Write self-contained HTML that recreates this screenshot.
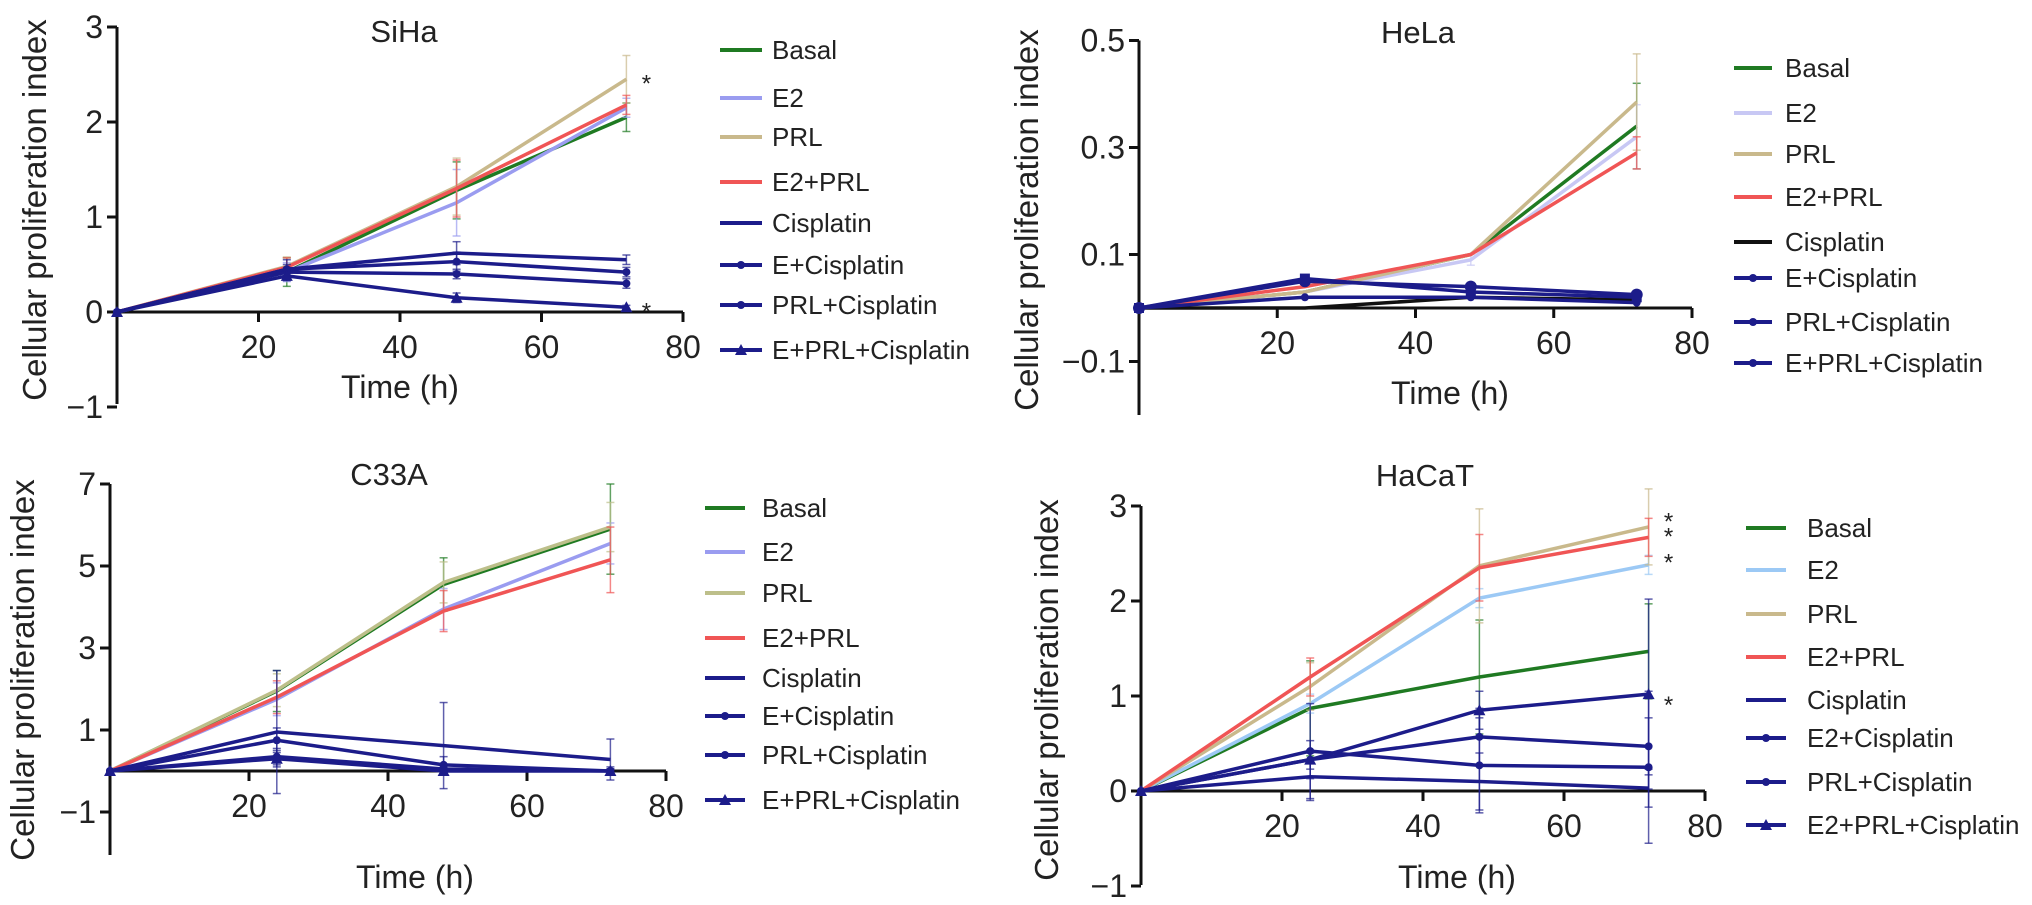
<!DOCTYPE html>
<html><head><meta charset="utf-8">
<style>
html,body{margin:0;padding:0;background:#fff;}
svg{display:block;font-family:"Liberation Sans",Arial,sans-serif;}
</style></head>
<body>
<svg id="fig" width="2032" height="905" viewBox="0 0 2032 905" xmlns="http://www.w3.org/2000/svg"></svg>
<script>
const times = [0, 24, 48, 72];
const xTicks = [20, 40, 60, 80];
const seriesNames = ["Basal","E2","PRL","E2+PRL","Cisplatin","E+Cisplatin","PRL+Cisplatin","E+PRL+Cisplatin"];
const hacatNames = ["Basal","E2","PRL","E2+PRL","Cisplatin","E2+Cisplatin","PRL+Cisplatin","E2+PRL+Cisplatin"];

const sihaBasal = [0,0.42,1.28,2.05];
const sihaE2 = [0,0.42,1.15,2.15];
const sihaPRL = [0,0.48,1.32,2.45];
const sihaE2PRL = [0,0.47,1.30,2.18];
const sihaCis = [0,0.45,0.62,0.55];
const sihaECis = [0,0.45,0.53,0.42];
const sihaPRLCis = [0,0.42,0.40,0.30];
const sihaEPRLCis = [0,0.38,0.15,0.05];
const sihaYTicks = [3,2,1,0,-1];

const helaBasal = [0,0.03,0.10,0.34];
const helaE2 = [0,0.03,0.09,0.32];
const helaPRL = [0,0.03,0.10,0.385];
const helaE2PRL = [0,0.04,0.10,0.29];
const helaCis = [0,0.0,0.02,0.015];
const helaECis = [0,0.02,0.02,0.01];
const helaPRLCis = [0,0.055,0.03,0.02];
const helaEPRLCis = [0,0.05,0.04,0.025];
const helaYTicks = [0.5,0.3,0.1,-0.1];

const c33Basal = [0,1.95,4.55,5.9];
const c33E2 = [0,1.75,3.95,5.55];
const c33PRL = [0,1.97,4.6,5.95];
const c33E2PRL = [0,1.8,3.9,5.15];
const c33Cis = [0,0.95,0.62,0.28];
const c33ECis = [0,0.75,0.15,0.0];
const c33PRLCis = [0,0.35,0.05,0.0];
const c33EPRLCis = [0,0.3,0.0,0.0];
const c33YTicks = [7,5,3,1,-1];

const hacatBasal = [0,0.87,1.2,1.47];
const hacatE2 = [0,0.92,2.03,2.38];
const hacatPRL = [0,1.1,2.37,2.78];
const hacatE2PRL = [0,1.2,2.35,2.67];
const hacatCis = [0,0.15,0.1,0.03];
const hacatE2Cis = [0,0.42,0.27,0.25];
const hacatPRLCis = [0,0.33,0.57,0.47];
const hacatE2PRLCis = [0,0.33,0.85,1.02];
const hacatYTicks = [3,2,1,0,-1];

const NS = "http://www.w3.org/2000/svg";
const svg = document.getElementById("fig");
function mk(tag, attrs, parent){const e=document.createElementNS(NS,tag);for(const k in attrs)e.setAttribute(k,attrs[k]);(parent||svg).appendChild(e);return e;}

const GREEN="#1f7a22", BLUE="#1c1c8a";
function panel(cfg){
  const g = mk("g",{});
  
  
  const X = t => cfg.x0 + (t/80)*(cfg.x80-cfg.x0);
  const Y = v => cfg.y0 - (v/cfg.unit)*cfg.unitPx;
  const ya = mk("line",{x1:cfg.x0,y1:Y(cfg.yTop),x2:cfg.x0,y2:cfg.yBottom,stroke:"#111","stroke-width":3},g);
  
  
  const xa = mk("line",{x1:cfg.x0,y1:cfg.y0,x2:cfg.x80,y2:cfg.y0,stroke:"#111","stroke-width":3},g);
  
  
  cfg.yTicks.forEach(v=>{
    mk("line",{x1:cfg.x0-10,y1:Y(v),x2:cfg.x0,y2:Y(v),stroke:"#111","stroke-width":3},g);
    const t = mk("text",{x:cfg.x0-14,y:Y(v)+11,"text-anchor":"end","font-size":32,fill:"#222"},g);
    t.textContent = v<0 ? "\u2212"+Math.abs(v) : String(v);
    
    
  });
  xTicks.forEach(v=>{
    mk("line",{x1:X(v),y1:cfg.y0,x2:X(v),y2:cfg.y0+10,stroke:"#111","stroke-width":3},g);
    const t = mk("text",{x:X(v),y:cfg.y0+46,"text-anchor":"middle","font-size":32,fill:"#222"},g);
    t.textContent = v;
    
    
  });
  const tt = mk("text",{x:cfg.titleX,y:cfg.titleY,"text-anchor":"middle","font-size":31,fill:"#222"},g);
  tt.textContent = cfg.title;
  
  
  const xt = mk("text",{x:cfg.xtX,y:cfg.xtY,"text-anchor":"middle","font-size":32,fill:"#222"},g);
  xt.textContent = "Time (h)";
  
  
  const yt = mk("text",{x:0,y:0,"text-anchor":"middle","font-size":33,fill:"#222",transform:`translate(${cfg.ytX},${cfg.ytY}) rotate(-90)`},g);
  yt.textContent = "Cellular proliferation index";
  
  
  cfg.series.forEach((s,i)=>{
    const sg = mk("g",{},g);
    
    
    s.vals.forEach((v,j)=>{
      if(!j) return;
      const e = (s.err||[])[j]||0;
      if(e>0){
        mk("line",{x1:X(times[j]),y1:Y(v-e),x2:X(times[j]),y2:Y(v+e),stroke:s.color,"stroke-width":1.5,opacity:0.7},sg);
        mk("line",{x1:X(times[j])-4,y1:Y(v+e),x2:X(times[j])+4,y2:Y(v+e),stroke:s.color,"stroke-width":1.5,opacity:0.7},sg);
        mk("line",{x1:X(times[j])-4,y1:Y(v-e),x2:X(times[j])+4,y2:Y(v-e),stroke:s.color,"stroke-width":1.5,opacity:0.7},sg);
      }
    });
    const pts = s.vals.map((v,j)=>X(times[j])+","+Y(v)).join(" ");
    mk("polyline",{points:pts,fill:"none",stroke:s.color,"stroke-width":s.w||3.5,"stroke-linejoin":"round"},sg);
    if(s.marker){
      s.vals.forEach((v,j)=>{
        if(s.marker==="tri") mk("path",{d:`M${X(times[j])-6},${Y(v)+5}L${X(times[j])+6},${Y(v)+5}L${X(times[j])},${Y(v)-6}Z`,fill:s.color},sg);
        else if(s.marker==="sq") mk("rect",{x:X(times[j])-5,y:Y(v)-5,width:10,height:10,fill:s.color},sg);
        else mk("circle",{cx:X(times[j]),cy:Y(v),r:s.marker==="big"?6:4,fill:s.color},sg);
      });
    }
  });
  (cfg.stars||[]).forEach(v=>{
    const a = mk("text",{x:X(72)+20,y:Y(v)+12,"font-size":24,fill:"#222","text-anchor":"middle"},g);
    a.textContent="*";
    
    
  });
  const lg = mk("g",{},g);
  
  
  cfg.series.forEach((s,i)=>{
    const y = cfg.legRows[i];
    const le = mk("g",{},lg);
    
    
    mk("line",{x1:cfg.legX1,y1:y,x2:cfg.legX2,y2:y,stroke:s.color,"stroke-width":4},le);
    if(s.marker){
      const cx=(cfg.legX1+cfg.legX2)/2;
      if(s.marker==="tri") mk("path",{d:`M${cx-6},${y+5}L${cx+6},${y+5}L${cx},${y-6}Z`,fill:s.color},le);
      else mk("circle",{cx:cx,cy:y,r:4,fill:s.color},le);
    }
    const t = mk("text",{x:cfg.legText,y:y+9,"font-size":26,fill:"#222"},le);
    t.textContent = s.name;
  });
}

function mkSeries(names, arrs, colors, errs, markers){
  return names.map((n,i)=>({name:n, vals:arrs[i], color:colors[i], err:errs[i], marker:markers[i]}));
}
const baseColors = [GREEN,"#9a9cf0","#c9b98c","#f05555",BLUE,BLUE,BLUE,BLUE];
const markers = [null,null,null,null,null,"dot","dot","tri"];

panel({id:"siha",title:"SiHa",x0:117,x80:683,y0:312,unit:1,unitPx:95,yTop:3,yBottom:404,yTicks:sihaYTicks,
  titleX:404,titleY:42,xtX:400,xtY:398,ytX:46,ytY:210,
  legX1:720,legX2:762,legText:772,legRows:[50,98,137,182,223,265,305,350],stars:[2.45,0.05],
  series:mkSeries(seriesNames,[sihaBasal,sihaE2,sihaPRL,sihaE2PRL,sihaCis,sihaECis,sihaPRLCis,sihaEPRLCis],baseColors,
   [[0,0.15,0.3,0.15],[0,0.1,0.35,0.1],[0,0.1,0.3,0.25],[0,0.1,0.3,0.1],[0,0.1,0.12,0.05],[0,0.05,0.1,0.05],[0,0.05,0.05,0.05],[0,0.05,0.05,0.02]],markers)});

panel({id:"hela",title:"HeLa",x0:1139,x80:1692,y0:308,unit:0.2,unitPx:107,yTop:0.5,yBottom:415,yTicks:helaYTicks,
  titleX:1418,titleY:43,xtX:1450,xtY:404,ytX:1038,ytY:220,
  legX1:1734,legX2:1772,legText:1785,legRows:[68,113,154,197,242,278,322,363],stars:[],
  series:mkSeries(seriesNames,[helaBasal,helaE2,helaPRL,helaE2PRL,helaCis,helaECis,helaPRLCis,helaEPRLCis],
   [GREEN,"#c8c8f4","#c9b98c","#f05555","#111",BLUE,BLUE,BLUE],
   [[0,0,0,0.08],[0,0,0.01,0.06],[0,0,0,0.09],[0,0,0,0.03],[0,0,0,0],[0,0,0,0],[0,0.005,0.01,0.005],[0,0,0.005,0.005]],
   [null,null,null,null,null,"dot","sq","big"])});

panel({id:"c33a",title:"C33A",x0:110,x80:666,y0:771,unit:1,unitPx:41,yTop:7,yBottom:855,yTicks:c33YTicks,
  titleX:389,titleY:485,xtX:415,xtY:888,ytX:34,ytY:670,
  legX1:705,legX2:745,legText:762,legRows:[508,552,593,638,678,716,755,800],stars:[],
  series:mkSeries(seriesNames,[c33Basal,c33E2,c33PRL,c33E2PRL,c33Cis,c33ECis,c33PRLCis,c33EPRLCis],
   [GREEN,"#9a9cf0","#bdbf8a","#f05555",BLUE,BLUE,BLUE,BLUE],
   [[0,0.5,0.65,1.1],[0,0.4,0.5,0.5],[0,0.4,0.5,0.6],[0,0.4,0.5,0.8],[0,1.5,1.05,0.5],[0,0.3,0.2,0.1],[0,0.2,0.1,0.05],[0,0.2,0.1,0.05]],markers)});

panel({id:"hacat",title:"HaCaT",x0:1141,x80:1705,y0:791,unit:1,unitPx:95,yTop:3,yBottom:885,yTicks:hacatYTicks,
  titleX:1425,titleY:486,xtX:1457,xtY:888,ytX:1058,ytY:690,
  legX1:1746,legX2:1786,legText:1807,legRows:[528,570,614,657,700,738,782,825],stars:[2.88,2.72,2.45,0.95],
  series:mkSeries(hacatNames,[hacatBasal,hacatE2,hacatPRL,hacatE2PRL,hacatCis,hacatE2Cis,hacatPRLCis,hacatE2PRLCis],
   [GREEN,"#9cc9f5","#c9b98c","#f05555",BLUE,BLUE,BLUE,BLUE],
   [[0,0.5,0.6,0.5],[0,0.1,0.1,0.1],[0,0.25,0.6,0.4],[0,0.2,0.35,0.2],[0,0.25,0.3,0.2],[0,0.5,0.5,0.8],[0,0.2,0.3,0.3],[0,0.1,0.2,1]],markers)});
</script>
</body></html>
